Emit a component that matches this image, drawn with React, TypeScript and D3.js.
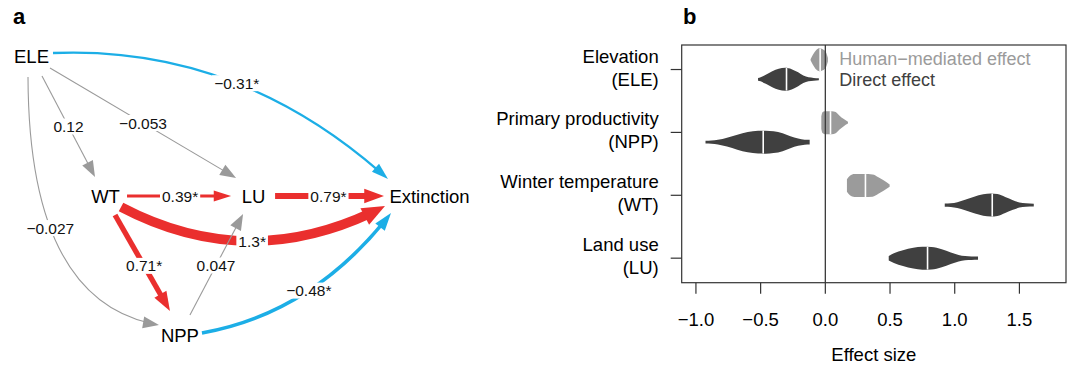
import React, { useEffect, useRef } from 'react';
import * as d3 from 'd3';

const W = 1070;
const H = 367;
const FONT = '"Liberation Sans", Arial, Helvetica, sans-serif';
const RED = '#ea2f2e';
const BLUE = '#1caee6';
const GREY = '#9a9a9a';

// ---- panel a: path model ----
const nodeNames = ['ELE', 'WT', 'LU', 'Extinction', 'NPP'];
const nodeCol = [0, 0.186, 0.558, 1, 0.373];
const nodeRow = [0, 0.5, 0.5, 0.5, 1];

const edgeFrom = ['ELE', 'ELE', 'ELE', 'ELE', 'WT', 'LU', 'WT', 'WT', 'NPP', 'NPP'];
const edgeTo = ['Extinction', 'WT', 'LU', 'NPP', 'LU', 'Extinction', 'Extinction', 'NPP', 'LU', 'Extinction'];
const edgeCoef = [-0.31, 0.12, -0.053, -0.027, 0.39, 0.79, 1.3, 0.71, 0.047, -0.48];
const edgeSig = [true, false, false, false, true, true, true, true, false, true];

// where each edge leaves / enters the node label, its bend and label spot
const edgeGeom = [
  { src: [21.5, -3.5], tgt: [-41.5, -17], bend: [-7, 73], t: 0.52 },
  { src: [10.5, 19.5], tgt: [-10.5, -19], bend: [0, 0], t: 0.5 },
  { src: [18.5, 11.5], tgt: [-17.5, -18], bend: [0, 0], t: 0.5 },
  { src: [-3.5, 20.5], tgt: [-21, -10.5], bend: [60, -105], t: 0.41 },
  { src: [21.5, 0], tgt: [-22.5, 0], bend: [0, 0], t: 0.51 },
  { src: [21.5, 0], tgt: [-45.5, 0], bend: [0, 0], t: 0.49 },
  { src: [15.5, 11], tgt: [-44.5, 10], bend: [-2, -69], t: 0.5 },
  { src: [9.5, 19], tgt: [-10, -24.5], bend: [0, 0], t: 0.53 },
  { src: [10, -20.5], tgt: [-10.5, 18], bend: [0, 0], t: 0.49 },
  { src: [22, -2.5], tgt: [-38.5, 17], bend: [-7, -43], t: 0.52 },
];

// ---- panel b: effect size violins ----
const predLine1 = ['Elevation', 'Primary productivity', 'Winter temperature', 'Land use'];
const predLine2 = ['(ELE)', '(NPP)', '(WT)', '(LU)'];
const effectTicks = [-1.0, -0.5, 0.0, 0.5, 1.0, 1.5];
const legendLabels = ['Human\u2212mediated effect', 'Direct effect'];

// [effect, relative density]
const eleHuman = [[-0.114, 0.05], [-0.095, 0.45], [-0.07, 0.85], [-0.045, 1], [-0.02, 0.92], [0.005, 0.65], [0.02, 0.15]];
const eleDirect = [[-0.52, 0.12], [-0.5, 0.18], [-0.46, 0.4], [-0.41, 0.7], [-0.36, 0.92], [-0.31, 1], [-0.26, 0.88], [-0.21, 0.6], [-0.17, 0.32], [-0.13, 0.17], [-0.09, 0.12], [-0.05, 0.08]];
const nppHuman = [[-0.031, 0.55], [-0.022, 0.9], [-0.005, 1], [0.05, 1], [0.08, 0.92], [0.11, 0.6], [0.14, 0.33], [0.175, 0.08]];
const nppDirect = [[-0.926, 0.12], [-0.88, 0.14], [-0.83, 0.2], [-0.76, 0.38], [-0.68, 0.65], [-0.6, 0.88], [-0.52, 0.99], [-0.46, 1], [-0.4, 0.95], [-0.33, 0.78], [-0.27, 0.52], [-0.21, 0.32], [-0.16, 0.22], [-0.121, 0.2]];
const wtHuman = [[0.167, 0.55], [0.19, 0.85], [0.225, 1], [0.3, 1], [0.365, 0.97], [0.41, 0.72], [0.45, 0.45], [0.497, 0.1]];
const wtDirect = [[0.923, 0.14], [0.97, 0.16], [1.02, 0.25], [1.08, 0.45], [1.15, 0.72], [1.22, 0.93], [1.28, 1], [1.33, 0.95], [1.39, 0.7], [1.45, 0.42], [1.5, 0.22], [1.55, 0.15], [1.611, 0.12]];
const luDirect = [[0.49, 0.2], [0.53, 0.42], [0.6, 0.68], [0.68, 0.9], [0.75, 1], [0.82, 0.98], [0.9, 0.78], [0.97, 0.5], [1.03, 0.28], [1.08, 0.18], [1.13, 0.15], [1.18, 0.14]];

const violinRow = [0, 0, 1, 1, 2, 2, 3];
const violinType = ['human', 'direct', 'human', 'direct', 'human', 'direct', 'direct'];
const violinProfile = [eleHuman, eleDirect, nppHuman, nppDirect, wtHuman, wtDirect, luDirect];
const violinMedian = [-0.04, -0.3, 0.04, -0.48, 0.31, 1.29, 0.79];

const fmtCoef = (c: number) => (c < 0 ? '\u2212' : '') + String(Math.abs(c));

function drawPathModel(svg: any) {
  const px = d3.scaleLinear().domain([0, 1]).range([31.5, 429.5]);
  const py = d3.scaleLinear().domain([0, 1]).range([56.5, 335.5]);
  const wScale = d3.scaleLinear().domain([0, 1.3]).range([0, 9.75]);
  const pos = (name: string) => {
    const i = nodeNames.indexOf(name);
    return [px(nodeCol[i]), py(nodeRow[i])];
  };

  const g = svg.append('g');
  const gEdges = g.append('g');
  const gLabels = g.append('g');

  edgeCoef.forEach((coef, i) => {
    const geo = edgeGeom[i];
    const a = pos(edgeFrom[i]);
    const b = pos(edgeTo[i]);
    const p0 = [a[0] + geo.src[0], a[1] + geo.src[1]];
    const p2 = [b[0] + geo.tgt[0], b[1] + geo.tgt[1]];
    const dx = p2[0] - p0[0], dy = p2[1] - p0[1];
    const len = Math.hypot(dx, dy);
    const ux = dx / len, uy = dy / len;
    const nx = uy, ny = -ux;
    const c = [
      (p0[0] + p2[0]) / 2 + geo.bend[0] * ux + geo.bend[1] * nx,
      (p0[1] + p2[1]) / 2 + geo.bend[0] * uy + geo.bend[1] * ny,
    ];
    const bez = (t: number) => [
      (1 - t) * (1 - t) * p0[0] + 2 * t * (1 - t) * c[0] + t * t * p2[0],
      (1 - t) * (1 - t) * p0[1] + 2 * t * (1 - t) * c[1] + t * t * p2[1],
    ];

    const sig = edgeSig[i];
    const color = sig ? (coef > 0 ? RED : BLUE) : GREY;
    const w = sig ? wScale(Math.abs(coef)) : 1.1;
    const headL = sig ? 15 + 0.8 * w : 16;
    const headW = sig ? 4 + 0.55 * w : 6;

    let tx = p2[0] - c[0], ty = p2[1] - c[1];
    const tl = Math.hypot(tx, ty);
    tx /= tl; ty /= tl;

    const tCut = 1 - (headL * 0.6) / len;
    const c2 = [p0[0] + (c[0] - p0[0]) * tCut, p0[1] + (c[1] - p0[1]) * tCut];
    const e = bez(tCut);
    const path = d3.path();
    path.moveTo(p0[0], p0[1]);
    path.quadraticCurveTo(c2[0], c2[1], e[0], e[1]);

    gEdges.append('path')
      .attr('d', path.toString())
      .attr('fill', 'none')
      .attr('stroke', color)
      .attr('stroke-width', w);

    const base = [p2[0] - headL * tx, p2[1] - headL * ty];
    const head = [
      p2,
      [base[0] + headW * ty, base[1] - headW * tx],
      [base[0] - headW * ty, base[1] + headW * tx],
    ];
    gEdges.append('path')
      .attr('d', d3.line()(head as any) + 'Z')
      .attr('fill', color);

    const lp = bez(geo.t);
    const lbl = gLabels.append('g');
    const rect = lbl.append('rect').attr('fill', '#fff');
    const txt = lbl.append('text')
      .attr('x', lp[0])
      .attr('y', lp[1])
      .attr('text-anchor', 'middle')
      .attr('dominant-baseline', 'central')
      .attr('font-size', 15.5)
      .attr('fill', '#111')
      .text(fmtCoef(coef) + (sig ? '*' : ''));
    const bb = (txt.node() as SVGTextElement).getBBox();
    rect.attr('x', bb.x - 2).attr('y', lp[1] - 8).attr('width', bb.width + 4).attr('height', 16);
  });

  g.append('g')
    .selectAll('text')
    .data(nodeNames)
    .join('text')
    .attr('x', (d: string) => pos(d)[0])
    .attr('y', (d: string) => pos(d)[1])
    .attr('text-anchor', 'middle')
    .attr('dominant-baseline', 'central')
    .attr('font-size', 18.5)
    .attr('fill', '#000')
    .text((d: string) => d);

  g.append('text')
    .attr('x', 13).attr('y', 24)
    .attr('font-size', 22).attr('font-weight', 'bold')
    .text('a');
}

function drawViolins(svg: any) {
  const x = d3.scaleLinear().domain([-1.11, 1.86]).range([681.7, 1066]);
  const y = d3.scaleLinear().domain([0.61, 4.39]).range([45, 282.7]);
  const half = 11.5;
  const fs = 18.5;
  const g = svg.append('g');
  const [x0, x1] = x.range();
  const [y0, y1] = y.range();

  violinProfile.forEach((prof, i) => {
    const row = violinRow[i];
    const hasHuman = violinType.some((t, j) => t === 'human' && violinRow[j] === row);
    const off = !hasHuman ? 0 : violinType[i] === 'human' ? -0.155 : 0.155;
    const cy = y(row + 1 + off);
    const fill = violinType[i] === 'human' ? '#9b9b9b' : '#404040';
    const area = d3.area<number[]>()
      .x(d => x(d[0]))
      .y0(d => cy - d[1] * half)
      .y1(d => cy + d[1] * half)
      .curve(d3.curveMonotoneX);
    g.append('path').attr('d', area(prof as any)).attr('fill', fill);

    const m = violinMedian[i];
    const dens = d3.scaleLinear().domain(prof.map(p => p[0])).range(prof.map(p => p[1]));
    const hm = dens(m) * half;
    g.append('line')
      .attr('x1', x(m)).attr('x2', x(m))
      .attr('y1', cy - hm).attr('y2', cy + hm)
      .attr('stroke', '#fff').attr('stroke-width', 1.6);
  });

  // zero line
  g.append('line')
    .attr('x1', x(0)).attr('x2', x(0)).attr('y1', y0).attr('y2', y1)
    .attr('stroke', '#3a3a3a').attr('stroke-width', 1.3);

  // box
  g.append('rect')
    .attr('x', x0).attr('y', y0).attr('width', x1 - x0).attr('height', y1 - y0)
    .attr('fill', 'none').attr('stroke', '#333').attr('stroke-width', 1.2);

  // bottom axis
  const fmt = d3.format('.1f');
  const bx = g.append('g');
  bx.selectAll('line').data(effectTicks).join('line')
    .attr('x1', (d: number) => x(d)).attr('x2', (d: number) => x(d))
    .attr('y1', y1).attr('y2', y1 + 11)
    .attr('stroke', '#333').attr('stroke-width', 1.2);
  bx.selectAll('text').data(effectTicks).join('text')
    .attr('x', (d: number) => x(d)).attr('y', y1 + 43)
    .attr('text-anchor', 'middle').attr('font-size', fs)
    .text((d: number) => fmt(d));

  // left axis
  const rows = d3.range(predLine1.length);
  const ly = g.append('g');
  ly.selectAll('line').data(rows).join('line')
    .attr('x1', x0 - 11).attr('x2', x0)
    .attr('y1', (r: number) => y(r + 1)).attr('y2', (r: number) => y(r + 1))
    .attr('stroke', '#333').attr('stroke-width', 1.2);
  ly.selectAll('text.l1').data(rows).join('text').attr('class', 'l1')
    .attr('x', x0 - 23).attr('y', (r: number) => y(r + 1) - 7)
    .attr('text-anchor', 'end').attr('font-size', fs)
    .text((r: number) => predLine1[r]);
  ly.selectAll('text.l2').data(rows).join('text').attr('class', 'l2')
    .attr('x', x0 - 23).attr('y', (r: number) => y(r + 1) + 16)
    .attr('text-anchor', 'end').attr('font-size', fs)
    .text((r: number) => predLine2[r]);

  // legend
  const legendFill = ['#9b9b9b', '#404040'];
  g.append('g').selectAll('text').data(legendLabels).join('text')
    .attr('x', x(0) + 14)
    .attr('y', (_: string, i: number) => 65 + i * 21)
    .attr('font-size', 18)
    .attr('fill', (_: string, i: number) => legendFill[i])
    .text((d: string) => d);

  g.append('text')
    .attr('x', (x0 + x1) / 2).attr('y', 361)
    .attr('text-anchor', 'middle').attr('font-size', fs)
    .text('Effect size');

  g.append('text')
    .attr('x', 683).attr('y', 24)
    .attr('font-size', 22).attr('font-weight', 'bold')
    .text('b');
}

export default function App() {
  const ref = useRef<SVGSVGElement>(null);

  useEffect(() => {
    const svg = d3.select(ref.current);
    svg.selectAll('*').remove();
    drawPathModel(svg);
    drawViolins(svg);
  }, []);

  return (
    <svg
      ref={ref}
      width={W}
      height={H}
      fontFamily={FONT}
      style={{ position: 'absolute', left: 0, top: 0, background: '#fff' }}
    />
  );
}
